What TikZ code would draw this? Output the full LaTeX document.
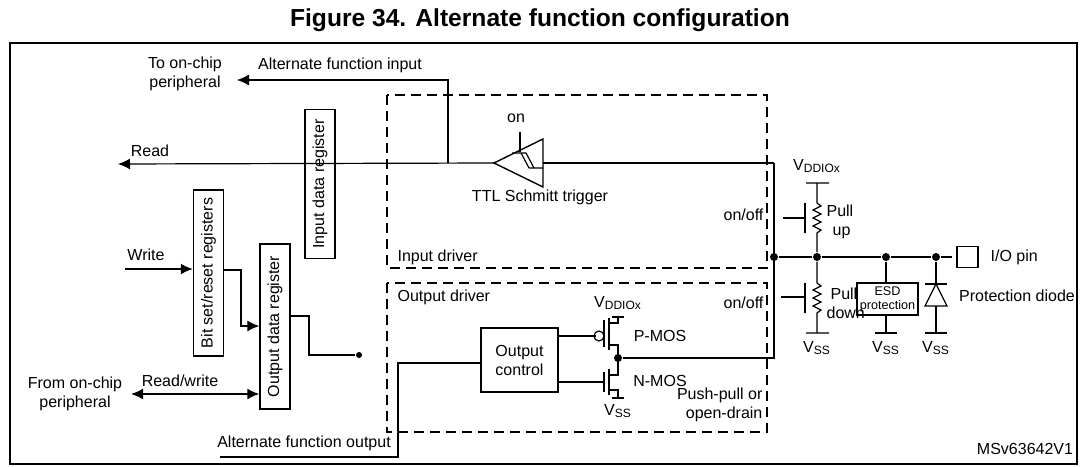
\documentclass[tikz,border=0pt]{standalone}
\usepackage{fontspec}
\setmainfont{Liberation Sans}
\usetikzlibrary{arrows.meta}
\begin{document}
\begin{tikzpicture}[x=0.5pt,y=-0.5pt,line width=0.6pt,
  txt/.style={font=\fontsize{8}{9.5}\selectfont,inner sep=0pt,align=center},
  small/.style={font=\fontsize{6.3}{7}\selectfont,inner sep=0pt,align=center},
  reg/.style={draw,line width=0.7pt,minimum height=15pt,inner sep=0pt,font=\fontsize{8}{9.5}\selectfont},
  drv/.style={draw,dashed,dash pattern=on 5pt off 3pt,line width=0.6pt},
  arr/.style={-{Latex[length=6pt,width=5.5pt]}},
  dot/.style={circle,fill,inner sep=0pt,minimum size=4pt}]
\useasboundingbox (0,0) rectangle (1081,466);
\node[font=\bfseries\fontsize{12.3}{14}\selectfont,inner sep=0pt] (title) at (540,20) {Figure 34. Alternate function configuration};
\draw[line width=1pt] (10,43) rectangle (1077,464);
% driver boxes
\draw[drv] (387,95) rectangle (767,268);
\draw[drv] (387,283) rectangle (767,432);
\node[txt,anchor=west] (indrv) at (397,257) {Input driver};
\node[txt,anchor=west] (outdrv) at (397,297) {Output driver};
% registers
\node[reg,minimum width=74.5pt,rotate=90] (idr) at (320,184) {Input data register};
\node[reg,minimum width=83pt,rotate=90] (bsr) at (208.5,273) {Bit set/reset registers};
\node[reg,minimum width=82.5pt,rotate=90] (odr) at (275,326.5) {Output data register};
% schmitt trigger
\coordinate (st) at (494,163);
\draw[line width=0.7pt] (494,163) -- (543,139) -- (543,187) -- cycle;
\draw (512,153) -- (526,153) (521,153) -- (529,168) (526,153) -- (534,168) (529,168) -- (543,168);
\draw (520,132) -- (520,152);
\node[txt] (on) at (516,118) {on};
\node[txt] (ttl) at (540,197) {TTL Schmitt trigger};
% read line
\coordinate (readend) at (118,164);
\coordinate (bus) at (774,163);
\coordinate (afi) at (448,163);
\draw (bus) -- (543,163);
\draw[arr] (st) -- (readend);
\node[txt] (read) at (150,151) {Read};
\coordinate (afiend) at (237,80);
\draw[arr] (afi) -- (448,80) -- (afiend);
\node[txt] (afilbl) at (340,65) {Alternate function input};
\node[txt] (toper) at (185,74) {To on-chip\\peripheral};
% write
\coordinate (wr) at (125,269);
\draw[arr,line width=0.8pt] (wr) -- (bsr.north |- wr);
\node[txt] (write) at (146,255) {Write};
\draw[arr] (bsr.south |- 0,270) -- (241,270) -- (241,326) -- (odr.north |- 0,326);
\node[dot,minimum size=3pt] (od) at (359,355) {};
\draw (odr.south |- 0,316) -- (309,316) -- (309,355) -- (od);
\coordinate (rw) at (131,394);
\draw[line width=0.8pt,{Latex[length=6pt,width=5.5pt]}-{Latex[length=6pt,width=5.5pt]}] (rw) -- (odr.north |- rw);
\node[txt] (rwl) at (180,381) {Read/write};
\node[txt] (fromper) at (75,394) {From on-chip\\peripheral};
% output control
\node[draw,line width=0.7pt,minimum width=38.5pt,minimum height=32pt,txt] (oc) at (519.5,360) {Output\\control};
\coordinate (afoend) at (220,457);
\draw (oc.west |- 0,363) -- (398,363) -- (398,457) -- (afoend);
\node[txt] (afol) at (304,443) {Alternate function output};
% PMOS
\draw (oc.east |- 0,336) -- (596,336);
\draw (599,336) circle (2.5pt);
\draw (604,320) -- (604,347);
\draw (609,318) -- (609,350);
\draw (609,323) -- (618,323) -- (618,317) (612,317) -- (624,317);
\draw (609,345) -- (618,345) -- (618,358);
\node[txt] (vddp) at (618,303) {V\textsubscript{DDIOx}};
\node[txt] (pmos) at (660,336) {P-MOS};
% NMOS
\draw (oc.east |- 0,382) -- (604,382);
\draw (604,372) -- (604,392);
\draw (609,369) -- (609,395);
\draw (609,375) -- (618,375) -- (618,358);
\draw (609,390) -- (618,390) -- (618,398) (612,398) -- (624,398);
\node[txt] (vssn) at (618,411) {V\textsubscript{SS}};
\node[txt] (nmos) at (660,381) {N-MOS};
\node[txt,align=right,anchor=east] (pp) at (763,405) {Push-pull or\\open-drain};
\node[dot] (drn) at (618,358) {};
\draw (drn) -- (774,358) -- (bus);
\node[txt,anchor=east] (onoff1) at (764,215) {on/off};
\node[txt,anchor=east] (onoff2) at (764,303) {on/off};
% right side
\node[dot] (j0) at (774,257) {};
\node[dot] (j1) at (817,257) {};
\node[dot] (j2) at (886,257) {};
\node[dot] (j3) at (936,257) {};
\node[draw,line width=0.7pt,minimum size=10.5pt,inner sep=0pt] (pin) at (967.5,257) {};
\draw (j0) -- (j1) -- (j2) -- (j3) -- (952,257);
\node[txt,anchor=west] (iopin) at (990,257) {I/O pin};
% pull up
\draw (806,183) -- (829,183) (817,183) -- (817,203)
  -- (821,206) -- (813,210) -- (821,214) -- (813,218) -- (821,222) -- (813,226) -- (821,230) -- (817,233) -- (j1);
\draw[line width=0.9pt] (805,203) -- (805,233);
\draw (783,218) -- (805,218);
\node[txt] (vddu) at (817,166) {V\textsubscript{DDIOx}};
\node[txt,align=left,anchor=west] (pu) at (826,222) {Pull\\\hspace*{3pt}up};
% pull down
\draw (j1) -- (817,283)
  -- (821,286) -- (813,290) -- (821,294) -- (813,298) -- (821,302) -- (813,306) -- (821,310) -- (817,313) -- (817,333) (806,333) -- (829,333);
\draw[line width=0.9pt] (805,283) -- (805,313);
\draw (781,297) -- (805,297);
\node[txt] (vssd) at (817,348) {V\textsubscript{SS}};
\node[txt,align=left,anchor=west] (pd) at (826,303) {\hspace*{2pt}Pull\\down};
% ESD
\node[draw,line width=0.7pt,small,minimum width=30.5pt,minimum height=16pt] (esd) at (887.5,299) {ESD\\protection};
\draw (j2) -- (esd.north -| j2) (esd.south -| j2) -- (886,333) (875,333) -- (897,333);
\node[txt] (vsse) at (886,348) {V\textsubscript{SS}};
% diode
\draw (j3) -- (936,284) (925,284) -- (947,284);
\draw (936,284) -- (925,306) -- (947,306) -- cycle;
\draw (936,306) -- (936,333) (925,333) -- (947,333);
\node[txt] (vssdi) at (936,348) {V\textsubscript{SS}};
\node[txt] (pdiode) at (1017,296) {Protection diode};
\node[txt] (ms) at (1025,449) {MSv63642V1};
\end{tikzpicture}
\end{document}
